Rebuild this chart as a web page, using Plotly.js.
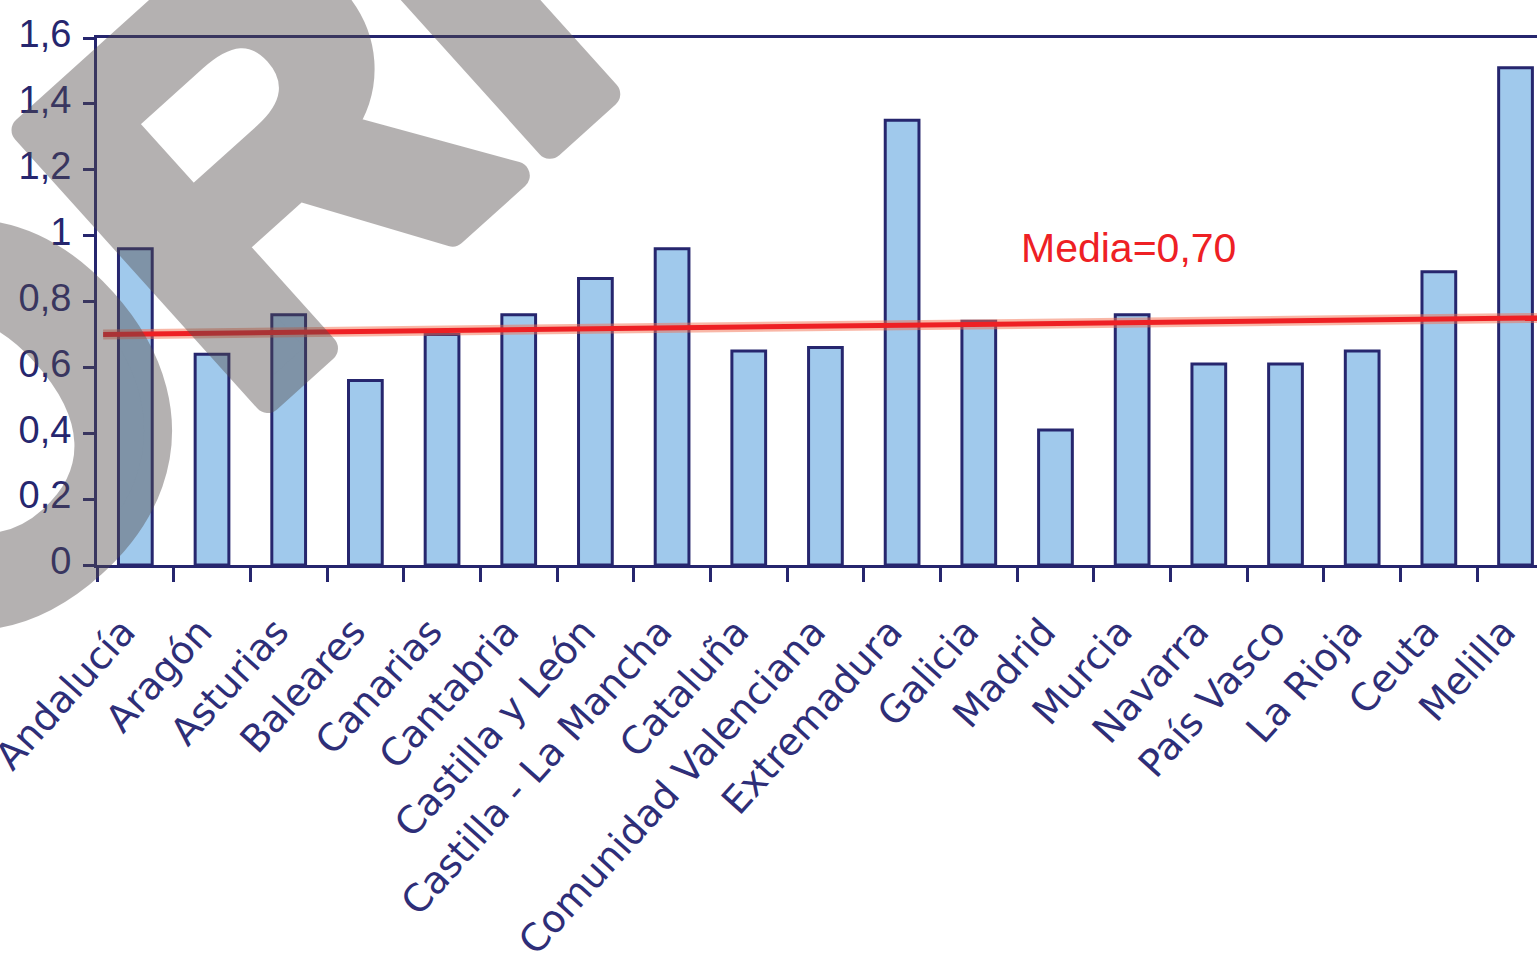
<!DOCTYPE html>
<html>
<head>
<meta charset="utf-8">
<script src="https://cdn.plot.ly/plotly-3.0.1.min.js"></script>
<style>
  html, body { margin: 0; padding: 0; background: #ffffff; overflow: hidden; }
  #chart { width: 1537px; height: 956px; }
  /* thicken the watermark strokes (heavy "borrador" stamp) */
  .annotation[data-index="1"] .annotation-text {
    stroke: rgb(84, 77, 77);
    stroke-width: 28px;
    stroke-linejoin: round;
  }
</style>
</head>
<body>
<div id="chart"></div>
<script>
// ---- data ----
const categories = ['Andalucía', 'Aragón', 'Asturias', 'Baleares', 'Canarias', 'Cantabria',
  'Castilla y León', 'Castilla - La Mancha', 'Cataluña', 'Comunidad Valenciana', 'Extremadura',
  'Galicia', 'Madrid', 'Murcia', 'Navarra', 'País Vasco', 'La Rioja', 'Ceuta', 'Melilla'];
const values = [0.96, 0.64, 0.76, 0.56, 0.70, 0.76, 0.87, 0.96, 0.65, 0.66, 1.35,
  0.74, 0.41, 0.76, 0.61, 0.61, 0.65, 0.89, 1.51];
const mediaLine = [0.70, 0.75];          // red "Media" line, left and right ends
const mediaLabel = 'Media=0,70';
const watermarkText = 'BORRADOR';
const yTicks = [0, 0.2, 0.4, 0.6, 0.8, 1, 1.2, 1.4, 1.6];

// ---- style ----
const navy = '#26266e';
const xRange = [-0.5, 18.28];

const bars = {
  type: 'bar',
  x: categories,
  y: values,
  width: 0.44,
  marker: { color: '#a0c9ec', line: { color: navy, width: 3 } },
  hoverinfo: 'x+y',
  showlegend: false
};

const halo = {
  type: 'scatter', mode: 'lines',
  xaxis: 'x2', yaxis: 'y',
  x: [-0.42, xRange[1]],
  y: mediaLine,
  line: { color: 'rgba(243,112,80,0.5)', width: 10 },
  hoverinfo: 'skip', showlegend: false
};
const media = {
  type: 'scatter', mode: 'lines',
  xaxis: 'x2', yaxis: 'y',
  x: [-0.42, xRange[1]],
  y: mediaLine,
  line: { color: '#ee2024', width: 5 },
  hoverinfo: 'skip', showlegend: false
};

const layout = {
  width: 1537, height: 956,
  margin: { l: 97, r: 0, t: 38, b: 391, pad: 0 },
  paper_bgcolor: '#ffffff', plot_bgcolor: '#ffffff',
  separators: ',.',
  showlegend: false,
  bargap: 0.5,
  xaxis: {
    type: 'category',
    range: xRange,
    showline: true, linecolor: navy, linewidth: 3, mirror: true,
    showgrid: false, zeroline: false,
    ticks: 'outside', tickson: 'boundaries', ticklen: 14, tickwidth: 3, tickcolor: navy,
    tickangle: -48,
    tickfont: { family: 'DejaVu Sans, Verdana, sans-serif', size: 38, color: '#2e2e78' },
    ticklabelstandoff: 26,
    ticklabelshift: -12,
    fixedrange: true
  },
  xaxis2: {
    overlaying: 'x', range: xRange, visible: false, fixedrange: true
  },
  yaxis: {
    range: [0, 1.6],
    tickvals: yTicks,
    showline: true, linecolor: navy, linewidth: 3,
    showgrid: false, zeroline: false,
    ticks: 'outside', ticklen: 11, tickwidth: 3, tickcolor: navy,
    tickfont: { family: '"Liberation Sans", Arial, sans-serif', size: 38, color: navy },
    ticklabelstandoff: 4,
    ticklabelshift: -4,
    fixedrange: true
  },
  annotations: [
    {
      xref: 'paper', yref: 'paper', x: 0.716, y: 0.6015,
      xanchor: 'center', yanchor: 'middle',
      text: mediaLabel, showarrow: false,
      font: { family: '"Liberation Sans", Arial, sans-serif', size: 41, color: '#ee2024' }
    },
    {
      xref: 'paper', yref: 'paper', x: 0.4076, y: 1.493,
      xanchor: 'center', yanchor: 'middle',
      text: '<b>' + watermarkText + '</b>', showarrow: false,
      textangle: -42,
      opacity: 0.43,
      font: { family: '"Liberation Sans", Arial, sans-serif', size: 526, color: 'rgb(84,77,77)' }
    }
  ]
};

Plotly.newPlot('chart', [bars, halo, media], layout, { displayModeBar: false, staticPlot: true });
</script>
</body>
</html>
